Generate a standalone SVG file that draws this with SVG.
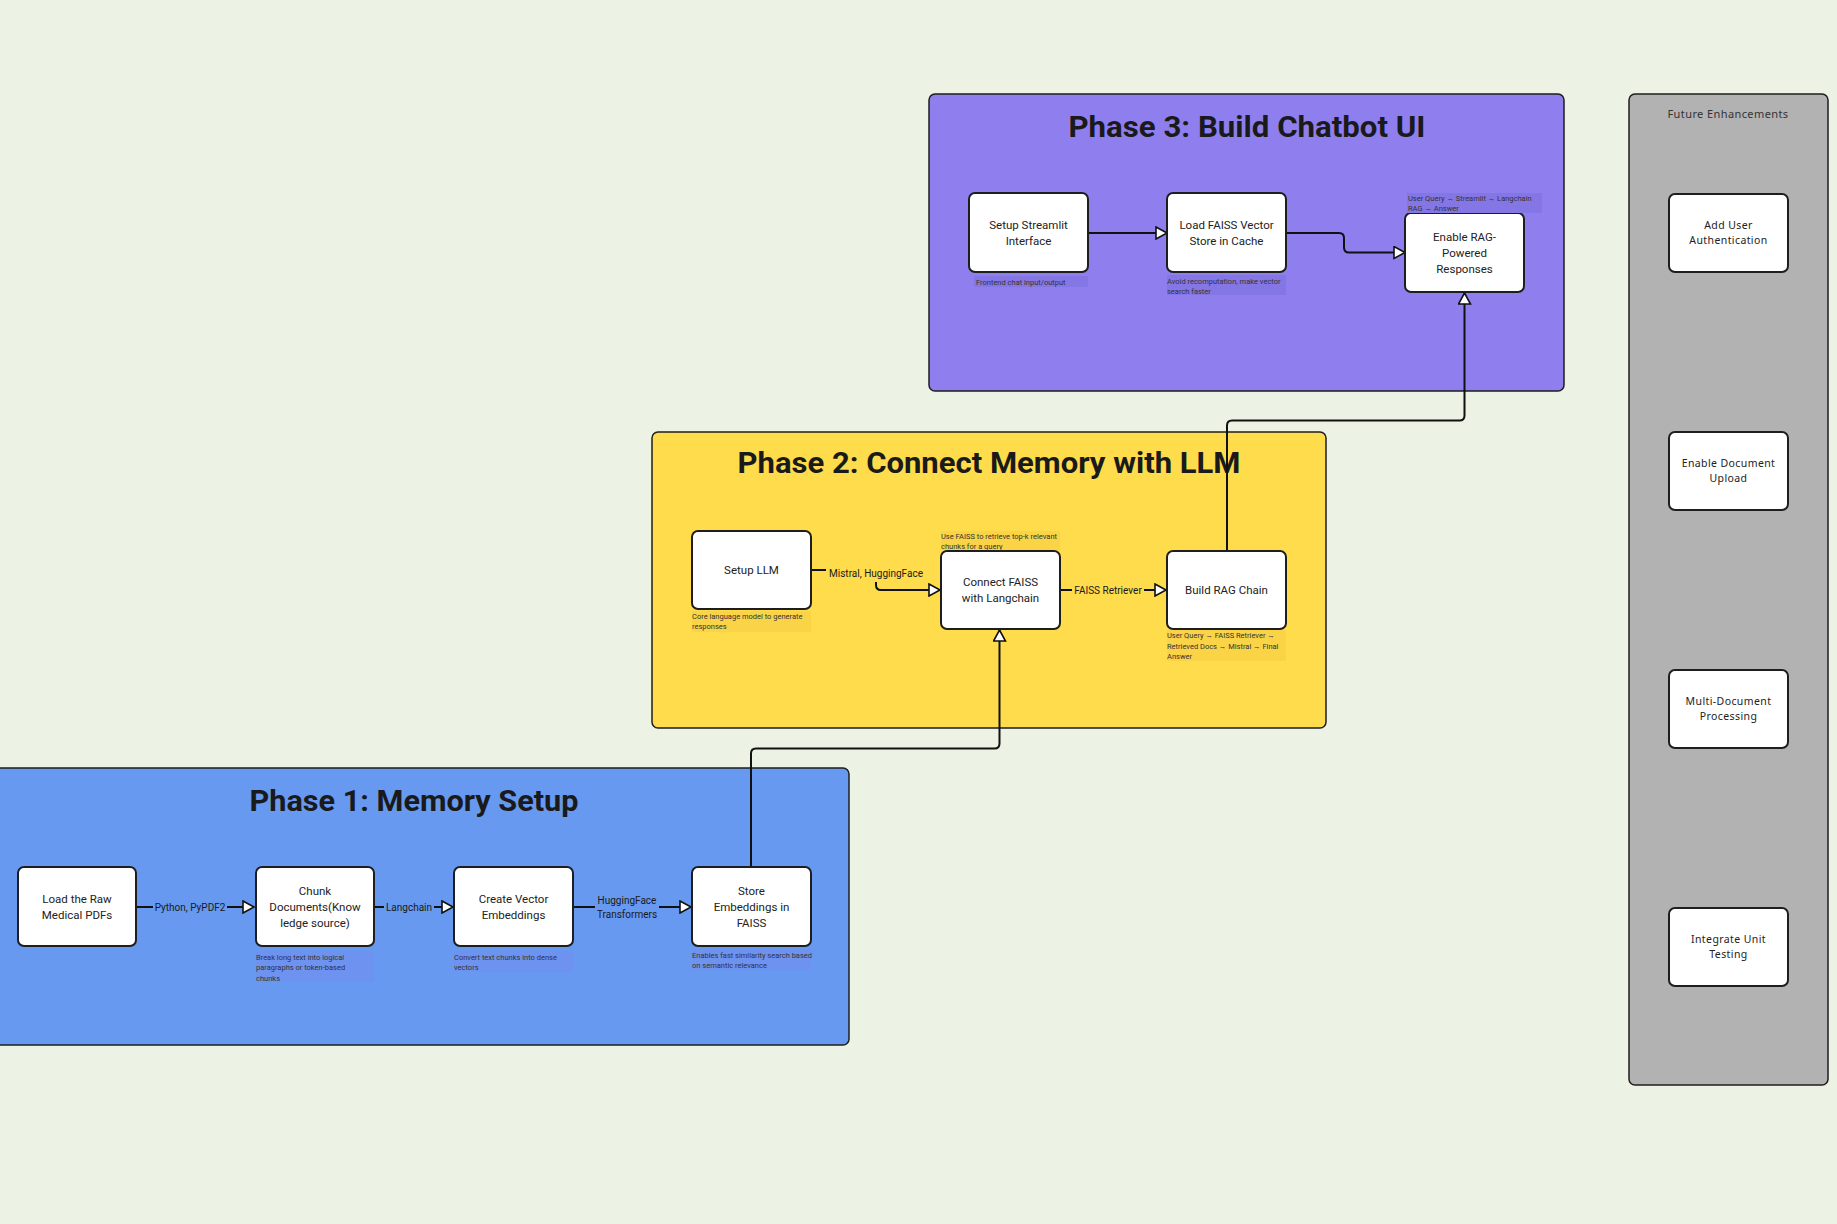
<svg xmlns="http://www.w3.org/2000/svg" width="1837" height="1224" viewBox="0 0 1837 1224">
<defs>
<marker id="arr" viewBox="0 0 14 14" refX="12.5" refY="7" markerWidth="14" markerHeight="14" markerUnits="userSpaceOnUse" orient="auto">
<path d="M1.5,1 L12.5,7 L1.5,13 z" fill="#fff" stroke="#111" stroke-width="1.6" stroke-linejoin="miter"/>
</marker>
<style>
.phase{stroke:#1e1e1e;stroke-width:1.5}
.title{font-family:Roboto,"Noto Sans",sans-serif;font-weight:bold;font-size:30px;fill:#1a1a1a;text-anchor:middle}
.node rect{fill:#fff;stroke:#1e1e1e;stroke-width:2}
.nt{font-family:Roboto,"Noto Sans",sans-serif;font-size:11.5px;fill:#222;text-anchor:middle}
.ft{font-family:"Noto Sans",sans-serif;font-size:10.5px;fill:#222;text-anchor:middle;letter-spacing:0.4px}
.note{font-family:Roboto,"Noto Sans",sans-serif;font-size:7.5px;fill:#333}
.conn path{fill:none;stroke:#111;stroke-width:2}
.el{font-family:Roboto,"Noto Sans",sans-serif;font-size:10px;fill:#1a1a1a;text-anchor:middle}
</style>
</defs>
<rect x="0" y="0" width="1837" height="1224" fill="#ecf3e5"/>

<g id="future">
<rect class="phase" x="1629" y="94" width="199" height="991" rx="6" fill="#b2b2b2"/>
<text x="1728" y="118" font-family="Noto Sans, sans-serif" font-size="11" fill="#333" text-anchor="middle" letter-spacing="0.4">Future Enhancements</text>
</g>

<g id="phase3">
<rect class="phase" x="929" y="94" width="635" height="297" rx="6" fill="#8e7eee"/>
<text class="title" x="1247" y="137" textLength="357" lengthAdjust="spacingAndGlyphs">Phase 3: Build Chatbot UI</text>
</g>

<g id="phase2">
<rect class="phase" x="652" y="432" width="674" height="296" rx="6" fill="#ffdc4b"/>
<text class="title" x="989" y="473" textLength="503" lengthAdjust="spacingAndGlyphs">Phase 2: Connect Memory with LLM</text>
</g>

<g id="phase1">
<rect class="phase" x="-22" y="768" width="871" height="277" rx="6" fill="#6699ef"/>
<text class="title" x="414" y="811" textLength="329" lengthAdjust="spacingAndGlyphs">Phase 1: Memory Setup</text>
</g>

<g id="connectors" class="conn">
<path d="M136 907 H254" marker-end="url(#arr)"/>
<path d="M374 907 H453" marker-end="url(#arr)"/>
<path d="M573 907 H691" marker-end="url(#arr)"/>
<path d="M751 867 V753.5 Q751 748.5 756 748.5 H994.5 Q999.5 748.5 999.5 743.5 V630" marker-end="url(#arr)"/>
<path d="M811 570 H871 Q876 570 876 575 V585 Q876 590 881 590 H940" marker-end="url(#arr)"/>
<path d="M1060 590 H1166" marker-end="url(#arr)"/>
<path d="M1227 550 V425.5 Q1227 420.5 1232 420.5 H1459.5 Q1464.5 420.5 1464.5 415.5 V293" marker-end="url(#arr)"/>
<path d="M1088 233 H1167" marker-end="url(#arr)"/>
<path d="M1286 233 H1339 Q1344 233 1344 238 V247.5 Q1344 252.5 1349 252.5 H1405" marker-end="url(#arr)"/>
<rect x="153" y="899" width="74" height="16" fill="#6699ef"/>
<text class="el" x="190" y="910.5">Python, PyPDF2</text>
<rect x="384" y="899" width="50" height="16" fill="#6699ef"/>
<text class="el" x="409" y="910.5">Langchain</text>
<rect x="595" y="892" width="64" height="30" fill="#6699ef"/>
<text class="el" x="627" y="904">HuggingFace</text>
<text class="el" x="627" y="918">Transformers</text>
<rect x="826" y="564" width="100" height="18" fill="#ffdc4b"/>
<text class="el" x="876" y="577">Mistral, HuggingFace</text>
<rect x="1072" y="582" width="72" height="16" fill="#ffdc4b"/>
<text class="el" x="1108" y="593.5">FAISS Retriever</text>
</g>

<g id="n-load-pdfs" class="node">
<rect x="18" y="867" width="118" height="79" rx="6"/>
<text class="nt" x="77" y="903">Load the Raw</text>
<text class="nt" x="77" y="919">Medical PDFs</text>
</g>
<g id="n-chunk" class="node">
<rect x="256" y="867" width="118" height="79" rx="6"/>
<text class="nt" x="315" y="895">Chunk</text>
<text class="nt" x="315" y="911">Documents(Know</text>
<text class="nt" x="315" y="927">ledge source)</text>
</g>
<rect x="256" y="951" width="118" height="31" fill="#6e92f0"/>
<text class="note" x="256" y="960">Break long text into logical</text>
<text class="note" x="256" y="970">paragraphs or token-based</text>
<text class="note" x="256" y="980.5">chunks</text>
<g id="n-embed" class="node">
<rect x="454" y="867" width="119" height="79" rx="6"/>
<text class="nt" x="513.5" y="903">Create Vector</text>
<text class="nt" x="513.5" y="919">Embeddings</text>
</g>
<rect x="454" y="951" width="119" height="21" fill="#6e92f0"/>
<text class="note" x="454" y="960">Convert text chunks into dense</text>
<text class="note" x="454" y="970">vectors</text>
<g id="n-store" class="node">
<rect x="692" y="867" width="119" height="79" rx="6"/>
<text class="nt" x="751.5" y="895">Store</text>
<text class="nt" x="751.5" y="911">Embeddings in</text>
<text class="nt" x="751.5" y="927">FAISS</text>
</g>
<rect x="692" y="949" width="119" height="21" fill="#6e92f0"/>
<text class="note" x="692" y="958">Enables fast similarity search based</text>
<text class="note" x="692" y="968">on semantic relevance</text>

<g id="n-setup-llm" class="node">
<rect x="692" y="531" width="119" height="78" rx="6"/>
<text class="nt" x="751.5" y="574">Setup LLM</text>
</g>
<rect x="692" y="611" width="119" height="21" fill="#fad446"/>
<text class="note" x="692" y="619">Core language model to generate</text>
<text class="note" x="692" y="629">responses</text>
<g id="n-connect-faiss" class="node">
<rect x="941" y="551" width="119" height="78" rx="6"/>
<text class="nt" x="1000.5" y="586">Connect FAISS</text>
<text class="nt" x="1000.5" y="602">with Langchain</text>
</g>
<rect x="941" y="531" width="119" height="19" fill="#fad446"/>
<text class="note" x="941" y="539">Use FAISS to retrieve top-k relevant</text>
<text class="note" x="941" y="549">chunks for a query</text>
<g id="n-build-rag" class="node">
<rect x="1167" y="551" width="119" height="78" rx="6"/>
<text class="nt" x="1226.5" y="594">Build RAG Chain</text>
</g>
<rect x="1167" y="630" width="119" height="31" fill="#fad446"/>
<text class="note" x="1167" y="638">User Query → FAISS Retriever →</text>
<text class="note" x="1167" y="648.5">Retrieved Docs → Mistral → Final</text>
<text class="note" x="1167" y="659">Answer</text>

<g id="n-streamlit" class="node">
<rect x="969" y="193" width="119" height="79" rx="6"/>
<text class="nt" x="1028.5" y="229">Setup Streamlit</text>
<text class="nt" x="1028.5" y="245">Interface</text>
</g>
<rect x="974" y="276" width="114" height="11" fill="#8576e6"/>
<text class="note" x="976" y="284.5">Frontend chat input/output</text>
<g id="n-load-faiss" class="node">
<rect x="1167" y="193" width="119" height="79" rx="6"/>
<text class="nt" x="1226.5" y="229">Load FAISS Vector</text>
<text class="nt" x="1226.5" y="245">Store in Cache</text>
</g>
<rect x="1167" y="275" width="119" height="20" fill="#8576e6"/>
<text class="note" x="1167" y="283.5">Avoid recomputation, make vector</text>
<text class="note" x="1167" y="293.5">search faster</text>
<g id="n-enable-rag" class="node">
<rect x="1405" y="213" width="119" height="79" rx="6"/>
<text class="nt" x="1464.5" y="241">Enable RAG-</text>
<text class="nt" x="1464.5" y="257">Powered</text>
<text class="nt" x="1464.5" y="273">Responses</text>
</g>
<rect x="1407" y="193" width="135" height="20" fill="#8576e6"/>
<text class="note" x="1408" y="201">User Query → Streamlit → Langchain</text>
<text class="note" x="1408" y="211">RAG → Answer</text>

<g id="n-auth" class="node">
<rect x="1669" y="194" width="119" height="78" rx="6"/>
<text class="ft" x="1728.5" y="229">Add User</text>
<text class="ft" x="1728.5" y="244">Authentication</text>
</g>
<g id="n-upload" class="node">
<rect x="1669" y="432" width="119" height="78" rx="6"/>
<text class="ft" x="1728.5" y="467">Enable Document</text>
<text class="ft" x="1728.5" y="482">Upload</text>
</g>
<g id="n-multidoc" class="node">
<rect x="1669" y="670" width="119" height="78" rx="6"/>
<text class="ft" x="1728.5" y="705">Multi-Document</text>
<text class="ft" x="1728.5" y="720">Processing</text>
</g>
<g id="n-unittest" class="node">
<rect x="1669" y="908" width="119" height="78" rx="6"/>
<text class="ft" x="1728.5" y="943">Integrate Unit</text>
<text class="ft" x="1728.5" y="958">Testing</text>
</g>
</svg>
